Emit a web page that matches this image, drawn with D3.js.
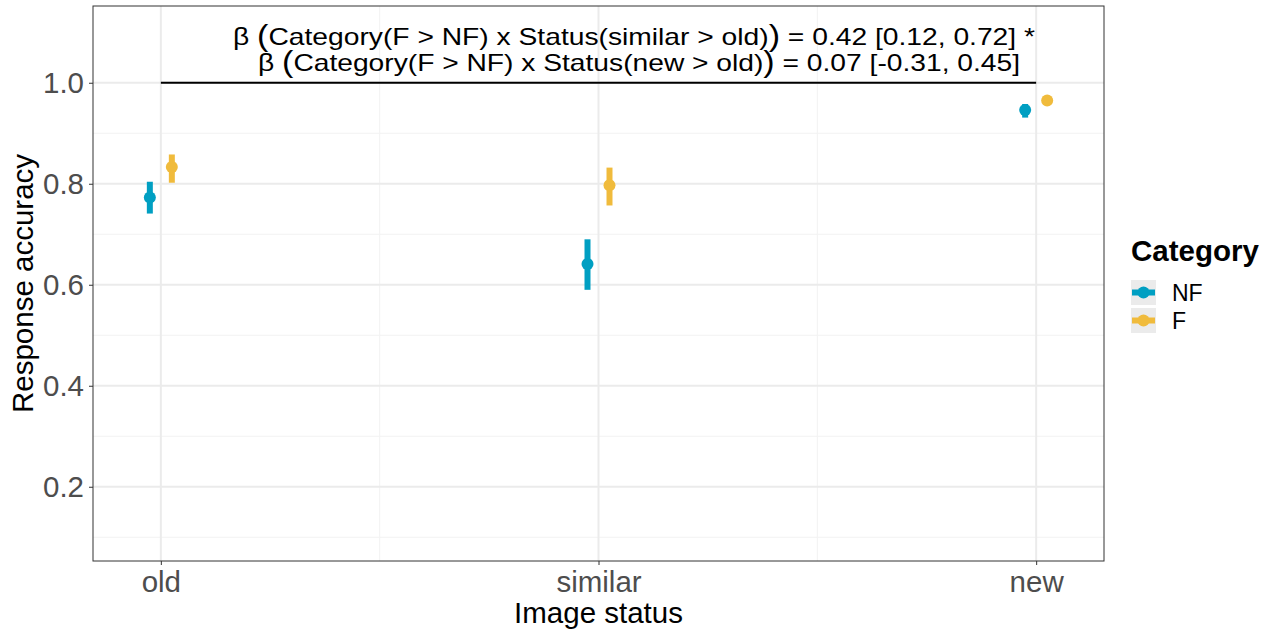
<!DOCTYPE html>
<html>
<head>
<meta charset="utf-8">
<script src="https://cdn.jsdelivr.net/npm/d3@7"></script>
<style>
  body { margin: 0; background: #fff; }
  text { font-family: "Liberation Sans", Arial, sans-serif; }
</style>
</head>
<body>
<div id="chart"></div>
<script>
const width = 1269;
const height = 634;
const margin = { top: 6, right: 165, bottom: 73, left: 93 };

// data
const statuses = ["old", "similar", "new"];
const categories = ["NF", "F"];
const colors = ["#009fc2", "#f0bb3c"];
const meanNF = [0.773, 0.641, 0.946];
const lowNF = [0.741, 0.590, 0.931];
const highNF = [0.804, 0.690, 0.958];
const meanF = [0.833, 0.797, 0.965];
const lowF = [0.802, 0.757, 0.960];
const highF = [0.858, 0.832, 0.970];
const yTicks = [0.2, 0.4, 0.6, 0.8, 1.0];
const yMinor = [0.1, 0.3, 0.5, 0.7, 0.9];
const annotations = [
    { pre: "β ", inner: "Category(F > NF) x Status(similar > old)", post: "  = 0.42 [0.12, 0.72] *" },
    { pre: "β ", inner: "Category(F > NF) x Status(new > old)", post: "  = 0.07 [-0.31, 0.45]" }
];

const rows = [];
statuses.forEach((s, i) => {
    rows.push({ status: s, cat: "NF", mean: meanNF[i], low: lowNF[i], high: highNF[i] });
    rows.push({ status: s, cat: "F", mean: meanF[i], low: lowF[i], high: highF[i] });
});

const svg = d3.select("#chart")
    .append("svg")
    .attr("width", width)
    .attr("height", height);

const x0 = margin.left, x1 = width - margin.right;
const y0 = height - margin.bottom, y1 = margin.top;

const x = d3.scalePoint().domain(statuses).range([x0, x1]).padding(0.155);
const y = d3.scaleLinear().domain([0.053, 1.152]).range([y0, y1]);
const color = d3.scaleOrdinal().domain(categories).range(colors);
const dodge = d3.scalePoint().domain(categories).range([-11, 11]);

// gridlines
const grid = svg.append("g");
grid.selectAll(".ymin").data(yMinor).enter().append("line")
    .attr("x1", x0).attr("x2", x1)
    .attr("y1", d => y(d)).attr("y2", d => y(d))
    .attr("stroke", "#f2f2f2").attr("stroke-width", 1);
const mids = [0.5, 1.5].map(m => x0 + (x.step()) * (x.padding() + m));
grid.selectAll(".xmin").data(mids).enter().append("line")
    .attr("x1", d => d).attr("x2", d => d)
    .attr("y1", y0).attr("y2", y1)
    .attr("stroke", "#f2f2f2").attr("stroke-width", 1);
grid.selectAll(".ymaj").data(yTicks).enter().append("line")
    .attr("x1", x0).attr("x2", x1)
    .attr("y1", d => y(d)).attr("y2", d => y(d))
    .attr("stroke", "#ebebeb").attr("stroke-width", 2);
grid.selectAll(".xmaj").data(statuses).enter().append("line")
    .attr("x1", d => x(d)).attr("x2", d => x(d))
    .attr("y1", y0).attr("y2", y1)
    .attr("stroke", "#ebebeb").attr("stroke-width", 2);

// bracket line at 1.0
svg.append("line")
    .attr("x1", x("old")).attr("x2", x("new"))
    .attr("y1", y(1.0)).attr("y2", y(1.0))
    .attr("stroke", "#000").attr("stroke-width", 2);

// error bars and points
svg.append("g").selectAll("line").data(rows).enter().append("line")
    .attr("x1", d => x(d.status) + dodge(d.cat))
    .attr("x2", d => x(d.status) + dodge(d.cat))
    .attr("y1", d => y(d.low)).attr("y2", d => y(d.high))
    .attr("stroke", d => color(d.cat)).attr("stroke-width", 6);
svg.append("g").selectAll("circle").data(rows).enter().append("circle")
    .attr("cx", d => x(d.status) + dodge(d.cat))
    .attr("cy", d => y(d.mean))
    .attr("r", 6)
    .attr("fill", d => color(d.cat));

// annotation text
annotations.forEach((a, i) => {
    const t = svg.append("text")
        .attr("x", i === 0 ? 634 : 639)
        .attr("y", i === 0 ? 45 : 71)
        .attr("text-anchor", "middle")
        .attr("font-size", 24)
        .attr("fill", "#000")
        .attr("textLength", i === 0 ? 802 : 762)
        .attr("lengthAdjust", "spacingAndGlyphs");
    t.append("tspan").text(a.pre);
    t.append("tspan").attr("font-size", 29).attr("dy", 1).text("(");
    t.append("tspan").attr("dy", -1).text(a.inner);
    t.append("tspan").attr("font-size", 29).attr("dy", 1).text(")");
    t.append("tspan").attr("dy", -1).text(a.post);
});

// panel border
svg.append("rect")
    .attr("x", x0).attr("y", y1)
    .attr("width", x1 - x0).attr("height", y0 - y1)
    .attr("fill", "none").attr("stroke", "#333").attr("stroke-width", 1);

// axes
const yAxis = svg.append("g")
    .attr("transform", `translate(${x0},0)`)
    .call(d3.axisLeft(y).tickValues(yTicks).tickFormat(d3.format(".1f")).tickSize(4).tickPadding(5));
const xAxis = svg.append("g")
    .attr("transform", `translate(0,${y0})`)
    .call(d3.axisBottom(x).tickSize(4).tickPadding(6));
[xAxis, yAxis].forEach(g => {
    g.select(".domain").remove();
    g.selectAll(".tick line").attr("stroke", "#333");
    g.selectAll(".tick text").attr("fill", "#4d4d4d").attr("font-size", 29.5)
        .attr("font-family", "Liberation Sans, Arial, sans-serif");
});

// axis titles
svg.append("text")
    .attr("x", (x0 + x1) / 2).attr("y", 623)
    .attr("text-anchor", "middle")
    .attr("font-size", 29.5)
    .text("Image status");
svg.append("text")
    .attr("transform", `translate(33,${(y0 + y1) / 2}) rotate(-90)`)
    .attr("text-anchor", "middle")
    .attr("font-size", 29.5)
    .text("Response accuracy");

// legend
const legend = svg.append("g").attr("transform", "translate(1131,235)");
legend.append("text")
    .attr("x", 0).attr("y", 26)
    .attr("font-size", 29.5).attr("font-weight", "bold")
    .text("Category");
const items = legend.selectAll(".legend-item").data(categories).enter().append("g")
    .attr("class", "legend-item")
    .attr("transform", (d, i) => `translate(0,${45 + i * 28})`);
items.append("rect").attr("width", 25).attr("height", 25).attr("fill", "#ebebeb");
items.append("line").attr("x1", 1).attr("x2", 24).attr("y1", 12.5).attr("y2", 12.5)
    .attr("stroke", d => color(d)).attr("stroke-width", 6);
items.append("circle").attr("cx", 12.5).attr("cy", 12.5).attr("r", 6).attr("fill", d => color(d));
items.append("text").attr("x", 41).attr("y", 21).attr("font-size", 23).text(d => d);
</script>
</body>
</html>
